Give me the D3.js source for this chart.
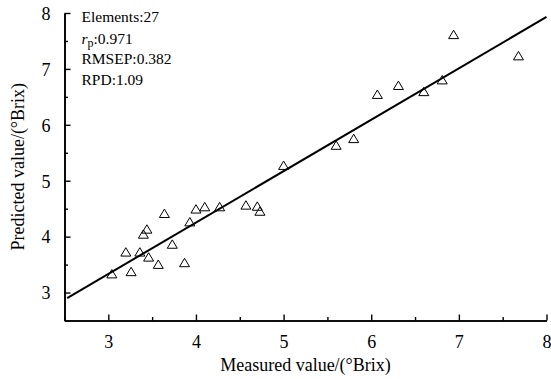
<!DOCTYPE html>
<html><head><meta charset="utf-8">
<script src="https://cdn.jsdelivr.net/npm/d3@7"></script>
<style>
html,body{margin:0;padding:0;background:#fff;}
svg{display:block;}
text{font-family:"Liberation Serif","Times New Roman",serif;fill:#000;}
</style></head>
<body>
<script>
const measured = [3.04,3.20,3.26,3.36,3.40,3.44,3.46,3.57,3.64,3.73,3.87,3.93,4.00,4.10,4.27,4.57,4.70,4.73,5.00,5.60,5.80,6.07,6.31,6.60,6.81,6.94,7.68];
const predicted = [3.33,3.72,3.37,3.72,4.04,4.13,3.63,3.50,4.41,3.86,3.53,4.26,4.49,4.53,4.53,4.56,4.54,4.45,5.27,5.63,5.75,6.54,6.70,6.59,6.80,7.61,7.23];
const fitLine = [[2.53,2.90],[8.0,7.93]];
const xTicks = [3,4,5,6,7,8];
const yTicks = [3,4,5,6,7,8];
const statsLines = ["Elements:27","rp:0.971","RMSEP:0.382","RPD:1.09"];
const xTitle = "Measured value/(°Brix)";
const yTitle = "Predicted value/(°Brix)";

const W=551,H=379;
const svg=d3.select("body").append("svg").attr("width",W).attr("height",H);
const x=d3.scaleLinear().domain([2.5,8]).range([64.5,546.5]);
const y=d3.scaleLinear().domain([2.5,8]).range([320.5,13]);

const xMinor=d3.range(2.5,8.01,0.5).filter(v=>!Number.isInteger(v));
const yMinor=d3.range(2.5,8.01,0.5).filter(v=>!Number.isInteger(v));

const gx=svg.append("g").attr("transform",`translate(0,${y(2.5)})`);
gx.call(d3.axisBottom(x).tickValues(xTicks).tickSizeInner(-6).tickSizeOuter(0).tickPadding(15).tickFormat(d3.format("d")));
gx.append("g").call(d3.axisBottom(x).tickValues(xMinor).tickSizeInner(-3.5).tickSizeOuter(0).tickFormat(""));
const gy=svg.append("g").attr("transform",`translate(${x(2.5)},0)`);
gy.call(d3.axisLeft(y).tickValues(yTicks).tickSizeInner(-6).tickSizeOuter(0).tickPadding(14).tickFormat(d3.format("d")));
gy.append("g").call(d3.axisLeft(y).tickValues(yMinor).tickSizeInner(-3.5).tickSizeOuter(0).tickFormat(""));
svg.selectAll(".domain").attr("stroke","#000").attr("stroke-width",1.6);
svg.selectAll(".tick line").attr("stroke","#000").attr("stroke-width",1.4);
svg.selectAll(".tick text").attr("font-size",18).attr("font-family","Liberation Serif");
gy.selectAll(".tick text").attr("dy","0.35em");

svg.append("path").datum(fitLine)
  .attr("d",d3.line().x(d=>x(d[0])).y(d=>y(d[1])))
  .attr("fill","none").attr("stroke","#000").attr("stroke-width",2);

const tri={draw(ctx,size){ctx.moveTo(0,-4.6);ctx.lineTo(5,3.8);ctx.lineTo(-5,3.8);ctx.closePath();}};
svg.append("g").selectAll("path").data(measured.map((m,i)=>[m,predicted[i]]))
  .join("path")
  .attr("d",d3.symbol().type(tri))
  .attr("transform",d=>`translate(${x(d[0])},${y(d[1])})`)
  .attr("fill","none").attr("stroke","#000").attr("stroke-width",1);

const tx=81.5, baselines=[22,44,64,85];
const st=svg.append("g").attr("font-size",15.5);
statsLines.forEach((s,i)=>{
  const t=st.append("text").attr("x",tx).attr("y",baselines[i]);
  if(s.startsWith("rp")){
    t.append("tspan").attr("font-style","italic").text("r");
    t.append("tspan").attr("dy",3).attr("font-size",12).text("p");
    t.append("tspan").attr("dy",-3).text(s.slice(2));
  } else t.text(s);
});

svg.append("text").attr("x",(x(2.5)+x(8))/2).attr("y",371).attr("text-anchor","middle").attr("font-size",18).text(xTitle);
svg.append("text").attr("transform",`translate(24,${(y(2.5)+y(8))/2}) rotate(-90)`).attr("text-anchor","middle").attr("font-size",18).text(yTitle);
</script>
</body></html>
